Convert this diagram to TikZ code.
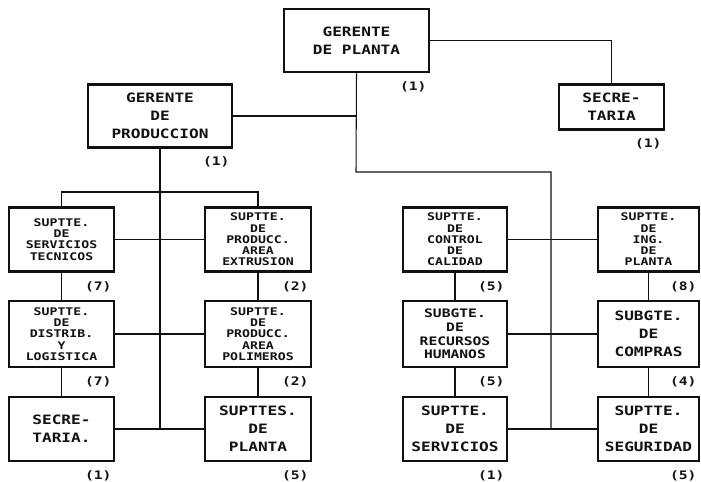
\documentclass[tikz,border=0pt]{standalone}
\usepackage{fontspec}
\setmonofont[FakeStretch=1.25]{DejaVu Sans Mono}
\usetikzlibrary{positioning}
\definecolor{tinta}{HTML}{111111}

\tikzset{
	puesto/.style={draw=tinta, line width=2.2pt, text=tinta, align=center, inner sep=0pt,
		font=\ttfamily\bfseries\fontsize{11}{15.5}\selectfont},
	denso/.style={font=\ttfamily\bfseries\fontsize{9}{9.6}\selectfont},
	medio/.style={font=\ttfamily\bfseries\fontsize{10}{11.6}\selectfont},
	cuenta/.style={text=tinta, inner sep=0pt, font=\ttfamily\bfseries\fontsize{10}{12}\selectfont},
	enlace/.style={draw=tinta, line width=0.9pt}
}

\begin{document}
\begin{tikzpicture}[x=0.03cm, y=-0.03cm]
					% Page frame in pixel units
					\useasboundingbox (0,0) rectangle (701,482);
					
					% Top level
					\node[puesto, minimum width=4.35cm, minimum height=1.9cm] (planta) at (356.5,40.5) {GERENTE\\DE PLANTA};
					\node[puesto, minimum width=3.15cm, minimum height=1.34cm] (secA) at (611.5,107) {SECRE-\\TARIA};
					\node[puesto, minimum width=4.32cm, minimum height=1.88cm] (prod) at (160,116) {GERENTE\\DE\\PRODUCCION};
					
					% Production area, two columns
					\node[puesto, denso, minimum width=3.15cm, minimum height=1.92cm] (sertec) at (61.5,239.5) {SUPTTE.\\DE\\SERVICIOS\\TECNICOS};
					\node[puesto, denso, minimum width=3.18cm, minimum height=1.92cm] (extr) at (258,239.5) {SUPTTE.\\DE\\PRODUCC.\\AREA\\EXTRUSION};
					\node[puesto, denso, minimum width=3.15cm, minimum height=1.98cm] (distr) at (61.5,334) {SUPTTE.\\DE\\DISTRIB.\\Y\\LOGISTICA};
					\node[puesto, denso, minimum width=3.18cm, minimum height=1.98cm] (polim) at (258,334) {SUPTTE.\\DE\\PRODUCC.\\AREA\\POLIMEROS};
					\node[puesto, minimum width=3.15cm, minimum height=1.92cm] (secB) at (61.5,429) {SECRE-\\TARIA.};
					\node[puesto, minimum width=3.18cm, minimum height=1.92cm] (suptes) at (258,429) {SUPTTES.\\DE\\PLANTA};
					
					% Plant services, two columns
					\node[puesto, denso, minimum width=3.12cm, minimum height=1.92cm] (calidad) at (455,239.5) {SUPTTE.\\DE\\CONTROL\\DE\\CALIDAD};
					\node[puesto, denso, minimum width=3.03cm, minimum height=1.92cm] (ingpl) at (648.5,239.5) {SUPTTE.\\DE\\ING.\\DE\\PLANTA};
					\node[puesto, medio, minimum width=3.12cm, minimum height=1.98cm] (rrhh) at (455,334) {SUBGTE.\\DE\\RECURSOS\\HUMANOS};
					\node[puesto, minimum width=3.03cm, minimum height=1.98cm] (compras) at (648.5,334) {SUBGTE.\\DE\\COMPRAS};
					\node[puesto, minimum width=3.12cm, minimum height=1.92cm] (servic) at (455,429) {SUPTTE.\\DE\\SERVICIOS};
					\node[puesto, minimum width=3.03cm, minimum height=1.92cm] (segur) at (648.5,429) {SUPTTE.\\DE\\SEGURIDAD};
					
					% Head counts under each box
					\foreach \n/\c in {planta/1, secA/1, prod/1, sertec/7, extr/2, distr/7, polim/2, secB/1, suptes/5,
						calidad/5, ingpl/8, rrhh/5, compras/4, servic/1, segur/5}{
						\node[cuenta, below left=7pt and 3pt of \n.south east] (c-\n) {(\c)};
					}
					
					% Helper points for the trunk lines
					\coordinate (nivelA) at (0,192);
					\coordinate (codo) at (356,172);
					\coordinate (bajada) at (551,172);
					
					% Connectors from the plant manager
					\draw[enlace] (planta.east) -| (secA.north);
					\draw[enlace] (prod.east) -- (prod.east -| planta.south);
					\draw[enlace] (planta.south) -- (codo) -- (bajada) -- (bajada |- servic.west);
					
					% Production tree
					\draw[enlace] (prod.south) -- (prod.south |- secB.east);
					\draw[enlace] (sertec.north) -- (sertec.north |- nivelA) -- (extr.north |- nivelA) -- (extr.north);
					\draw[enlace] (sertec.east) -- (extr.west);
					\draw[enlace] (distr.east) -- (polim.west);
					\draw[enlace] (secB.east) -- (suptes.west);
					\draw[enlace] (sertec) -- (distr);
					\draw[enlace] (distr) -- (secB);
					\draw[enlace] (extr) -- (polim);
					\draw[enlace] (polim) -- (suptes);
					
					% Services tree
					\draw[enlace] (calidad.east) -- (ingpl.west);
					\draw[enlace] (rrhh.east) -- (compras.west);
					\draw[enlace] (servic.east) -- (segur.west);
					\draw[enlace] (calidad) -- (rrhh);
					\draw[enlace] (rrhh) -- (servic);
					\draw[enlace] (ingpl) -- (compras);
					\draw[enlace] (compras) -- (segur);
				\end{tikzpicture}
\end{document}
